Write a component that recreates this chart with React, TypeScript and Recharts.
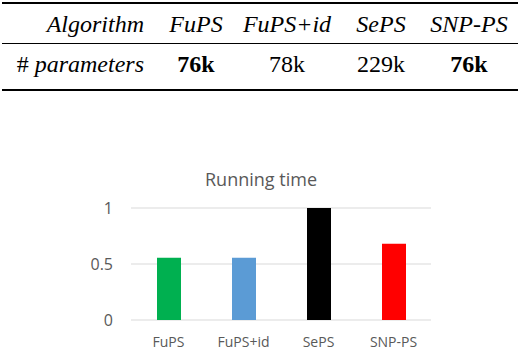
import React from "react";
import { BarChart, Bar, XAxis, YAxis, CartesianGrid, Cell } from "recharts";

const algorithms = ["FuPS", "FuPS+id", "SePS", "SNP-PS"];
const paramCounts = ["76k", "78k", "229k", "76k"];
const paramBold = [true, false, false, true];
const runningTime = [0.556, 0.556, 1.0, 0.68];
const barColors = ["#00B050", "#5B9BD5", "#000000", "#FF0000"];
const yTicks = [0, 0.5, 1];

const data = algorithms.map((name, i) => ({ name, value: runningTime[i] }));

const colCenters = [196, 287, 381, 469];
const serif = "'Liberation Serif', 'Times New Roman', serif";
const sans = "'Open Sans', 'Noto Sans', sans-serif";

export default function App() {
  return (
    <div style={{ position: "absolute", left: 0, top: 0, width: 522, height: 350, background: "#fff", overflow: "hidden" }}>
      {/* table */}
      <div style={{ position: "absolute", left: 2, top: 2, width: 516, height: 2, background: "#000" }} />
      <div style={{ position: "absolute", left: 2, top: 43, width: 516, height: 1, background: "#000" }} />
      <div style={{ position: "absolute", left: 2, top: 89, width: 516, height: 2, background: "#000" }} />
      <div style={{ position: "absolute", left: 0, top: 9, width: 144, textAlign: "right", fontFamily: serif, fontStyle: "italic", fontSize: 24, lineHeight: "30px" }}>Algorithm</div>
      <div style={{ position: "absolute", left: 0, top: 49, width: 144, textAlign: "right", fontFamily: serif, fontSize: 24, lineHeight: "30px" }}>
        # <span style={{ fontStyle: "italic" }}>parameters</span>
      </div>
      {algorithms.map((a, i) => (
        <div key={a} style={{ position: "absolute", left: colCenters[i] - 60, top: 9, width: 120, textAlign: "center", fontFamily: serif, fontStyle: "italic", fontSize: 24, lineHeight: "30px" }}>{a}</div>
      ))}
      {paramCounts.map((p, i) => (
        <div key={i} style={{ position: "absolute", left: colCenters[i] - 60, top: 49, width: 120, textAlign: "center", fontFamily: serif, fontWeight: paramBold[i] ? "bold" : "normal", fontSize: 24, lineHeight: "30px" }}>{p}</div>
      ))}
      {/* chart */}
      <div style={{ position: "absolute", left: 140, top: 168, width: 242, textAlign: "center", fontFamily: sans, fontSize: 18, color: "#595959", lineHeight: "22px" }}>Running time</div>
      <div style={{ position: "absolute", left: 0, top: 0 }}>
        <BarChart width={522} height={350} data={data} margin={{ top: 208, right: 91, bottom: 0, left: 91 }}>
          <CartesianGrid vertical={false} stroke="#D9D9D9" />
          <XAxis dataKey="name" height={30} axisLine={false} tickLine={false} tickMargin={11}
            tick={{ fill: "#595959", fontSize: 14, fontFamily: sans }} interval={0} />
          <YAxis width={40} domain={[0, 1]} ticks={yTicks} axisLine={false} tickLine={false} tickMargin={12}
            tick={{ fill: "#595959", fontSize: 16, fontFamily: sans }} />
          <Bar dataKey="value" barSize={24} isAnimationActive={false}>
            {data.map((d, i) => (
              <Cell key={d.name} fill={barColors[i]} />
            ))}
          </Bar>
        </BarChart>
      </div>
    </div>
  );
}
